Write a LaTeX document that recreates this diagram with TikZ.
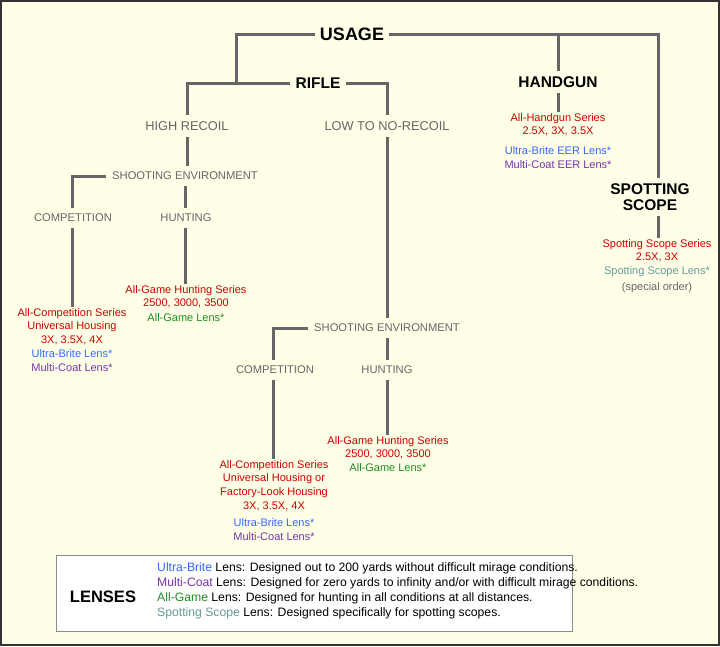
\documentclass[tikz,border=0pt]{standalone}
\usepackage{fontspec}
\setmainfont{Liberation Sans}
\begin{document}
\definecolor{bg}{HTML}{FFFFE8}
\definecolor{ln}{HTML}{666666}
\definecolor{rd}{HTML}{CC0000}
\definecolor{bl}{HTML}{3366FF}
\definecolor{pu}{HTML}{7733AA}
\definecolor{gr}{HTML}{228B22}
\definecolor{tl}{HTML}{669999}
\begin{tikzpicture}[x=1pt,y=-1pt,
  big/.style={font=\fontsize{18}{20}\selectfont\bfseries,inner sep=5pt},
  mid/.style={font=\fontsize{15.5}{16}\selectfont\bfseries,inner sep=5pt,align=center},
  sub/.style={font=\fontsize{12.8}{14}\selectfont,text=ln,inner sep=6pt},
  env/.style={font=\fontsize{11.2}{12}\selectfont,text=ln,inner sep=6pt},
  info/.style={font=\fontsize{11}{13.8}\selectfont,align=center,inner sep=1pt,anchor=north},
  wire/.style={draw=ln,line width=3pt}]
\fill[bg] (0,0) rectangle (720,646);
\draw[line width=1.2pt,black!80] (1,1) rectangle (719,645);
\node[big] (usage) at (352,34) {USAGE};
\node[mid] (rifle) at (318,83) {RIFLE};
\node[mid] (handgun) at (558,82) {HANDGUN};
\node[mid,font=\fontsize{15.5}{16}\selectfont\bfseries] (spot) at (650,197) {SPOTTING\\SCOPE};
\node[sub] (high) at (187,126) {HIGH RECOIL};
\node[sub] (low) at (387,126) {LOW TO NO-RECOIL};
\node[env] (se1) at (185,176) {SHOOTING ENVIRONMENT};
\node[env] (comp1) at (73,218) {COMPETITION};
\node[env] (hunt1) at (186,218) {HUNTING};
\node[env] (se2) at (387,328) {SHOOTING ENVIRONMENT};
\node[env] (comp2) at (275,370) {COMPETITION};
\node[env] (hunt2) at (387,370) {HUNTING};
\node[info] (hg) at (558,112) {\color{rd}All-Handgun Series\\\color{rd}2.5X, 3X, 3.5X\\[6pt]\color{bl}Ultra-Brite EER Lens*\\\color{pu}Multi-Coat EER Lens*};
\node[info] (ss) at (657,238) {\color{rd}Spotting Scope Series\\\color{rd}2.5X, 3X\\\color{tl}Spotting Scope Lens*\\[2pt]\color{ln}(special order)};
\node[info] (h1) at (186,284) {\color{rd}All-Game Hunting Series\\\color{rd}2500, 3000, 3500\\[1pt]\color{gr}All-Game Lens*};
\node[info] (c1) at (72,307) {\color{rd}All-Competition Series\\\color{rd}Universal Housing\\\color{rd}3X, 3.5X, 4X\\\color{bl}Ultra-Brite Lens*\\\color{pu}Multi-Coat Lens*};
\node[info] (h2) at (388,435) {\color{rd}All-Game Hunting Series\\\color{rd}2500, 3000, 3500\\\color{gr}All-Game Lens*};
\node[info] (c2) at (274,459) {\color{rd}All-Competition Series\\\color{rd}Universal Housing or\\\color{rd}Factory-Look Housing\\\color{rd}3X, 3.5X, 4X\\[3pt]\color{bl}Ultra-Brite Lens*\\\color{pu}Multi-Coat Lens*};
% connectors
\draw[wire] (usage.west) -| (236,83) -- (rifle.west);
\draw[wire] (236,83) -| (high.north);
\draw[wire] (usage.east) -| (spot.north -| 658,0);
\draw[wire] (558,34) -- (handgun.north);
\draw[wire] (rifle.east) -| (low.north);
\draw[wire] (high.south) -- (se1.north -| high.south);
\draw[wire] (se1.west) -- (72,176) -- (comp1.north -| 72,0);
\draw[wire] (comp1.south -| 72,0) -- (c1.north -| 72,0);
\draw[wire] (se1.south -| 185,0) -- (hunt1.north -| 185,0);
\draw[wire] (hunt1.south -| 185,0) -- (h1.north -| 185,0);
\draw[wire] (low.south) -- (se2.north -| low.south);
\draw[wire] (se2.west) -- (273,328) -- (comp2.north -| 273,0);
\draw[wire] (comp2.south -| 273,0) -- (c2.north -| 273,0);
\draw[wire] (se2.south -| 387,0) -- (hunt2.north -| 387,0);
\draw[wire] (hunt2.south -| 387,0) -- (h2.north -| 387,0);
\draw[wire] (handgun.south) -- (hg.north -| handgun.south);
\draw[wire] (spot.south -| 658,0) -- (ss.north -| 658,0);
% legend
\node[draw=black!45,line width=0.8pt,fill=white,minimum width=516pt,minimum height=76pt,anchor=north west,inner sep=0pt] (leg) at (56,555) {};
\node[font=\fontsize{16.5}{18}\selectfont\bfseries] (lens) at (103,597) {LENSES};
\node[anchor=north west,align=left,font=\fontsize{12.2}{15.3}\selectfont,inner sep=0pt] (legtxt) at (157,562) {{\color{bl}Ultra-Brite} Lens: Designed out to 200 yards without difficult mirage conditions.\\
{\color{pu}Multi-Coat} Lens: Designed for zero yards to infinity and/or with difficult mirage conditions.\\
{\color{gr}All-Game} Lens: Designed for hunting in all conditions at all distances.\\
{\color{tl}Spotting Scope} Lens: Designed specifically for spotting scopes.};
\end{tikzpicture}
\end{document}
